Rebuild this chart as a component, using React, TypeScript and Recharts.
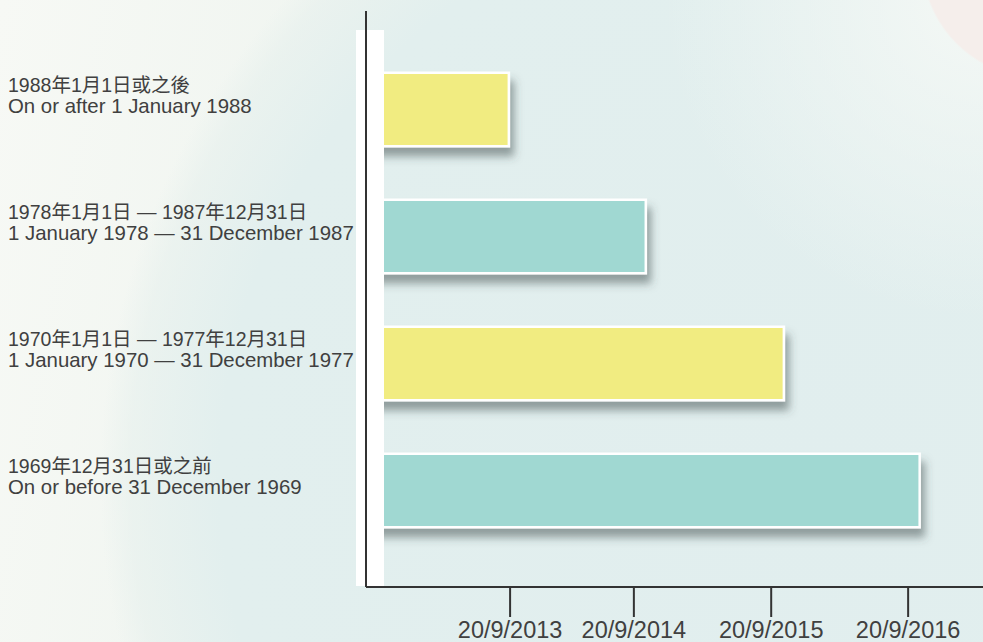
import React from 'react'
import { BarChart, Bar, XAxis, YAxis, Cell } from 'recharts'

// birth date groups (top to bottom)
const groupsZh = ['1988年1月1日或之後', '1978年1月1日 — 1987年12月31日', '1970年1月1日 — 1977年12月31日', '1969年12月31日或之前']
const groupsEn = ['On or after 1 January 1988', '1 January 1978 — 31 December 1987', '1 January 1970 — 31 December 1977', 'On or before 31 December 1969']
// bar end, in days from the axis origin
const barDays = [383, 747, 1114, 1475]
const barColors = ['#f1ec81', '#a0d8d2', '#f1ec81', '#a0d8d2']
// tick positions and labels
const tickDays = [383, 712, 1077, 1441]
const tickLabels = ['20/9/2013', '20/9/2014', '20/9/2015', '20/9/2016']

const data = groupsZh.map((zh, i) => ({ zh, en: groupsEn[i], days: barDays[i] }))

const textFont = "'Liberation Sans', 'Noto Sans CJK TC', sans-serif"

function GroupTick(props: any) {
  const { y, payload } = props
  const row = data.find(d => d.zh === payload.value)
  return (
    <g>
      <text x={8} y={y - 17} fontSize={19.5} fill="#404040" fontFamily={textFont}>{row?.zh}</text>
      <text x={8} y={y + 4} fontSize={20.4} fill="#404040" fontFamily={textFont}>{row?.en}</text>
    </g>
  )
}

function FramedBar(props: any) {
  const { x, y, width, height, fill } = props
  return (
    <g>
      <rect x={x} y={y} width={width} height={height} fill="#fff" filter="url(#barShadow)" />
      <rect x={x} y={y + 2.5} width={width - 2.5} height={height - 5} fill={fill} />
    </g>
  )
}

export default function App() {
  return (
    <div
      style={{
        position: 'absolute',
        left: 0,
        top: 0,
        width: 983,
        height: 642,
        background:
          'radial-gradient(circle at 1040px -40px, #f5eeeb 0 117px, rgba(245,238,235,0) 119px),' +
          'radial-gradient(circle at 983px 0px, rgba(244,248,245,1) 0, rgba(244,248,245,0) 320px),' +
          'radial-gradient(circle at 820px 480px, #e1eeee 0, #e2efee 600px, rgba(230,240,237,0.6) 690px, rgba(230,240,237,0) 720px),' +
          'linear-gradient(100deg, #f7f9f5 0%, #eef4ef 40%, #e7f1ee 70%, #ecf4ef 100%)',
      }}
    >
      <BarChart
        width={983}
        height={642}
        data={data}
        layout="vertical"
        margin={{ top: 11, right: 0, left: 0, bottom: 0 }}
        barSize={76}
      >
        <defs>
          <filter id="barShadow" x="-10%" y="-20%" width="130%" height="170%">
            <feDropShadow dx="4" dy="9" stdDeviation="4" floodColor="#3a4a4a" floodOpacity="0.5" />
          </filter>
        </defs>
        <XAxis
          type="number"
          dataKey="days"
          domain={[0, 1640]}
          ticks={tickDays}
          tickFormatter={(v: number) => tickLabels[tickDays.indexOf(v)] ?? ''}
          height={55}
          axisLine={{ stroke: '#333', strokeWidth: 2 }}
          tickLine={{ stroke: '#333', strokeWidth: 2 }}
          tickSize={30}
          tickMargin={4}
          tick={{ fontSize: 23.5, fill: '#404040', fontFamily: textFont }}
          interval={0}
        />
        <YAxis
          type="category"
          dataKey="zh"
          width={366}
          padding={{ top: 34.5, bottom: 33.5 }}
          axisLine={{ stroke: '#333', strokeWidth: 2 }}
          tickLine={false}
          tick={<GroupTick />}
          interval={0}
        />
        <Bar dataKey="days" shape={<FramedBar />} isAnimationActive={false}>
          {data.map((d, i) => (
            <Cell key={d.zh} fill={barColors[i]} />
          ))}
        </Bar>
      </BarChart>
      {/* white strip over the bar roots, split around the axis line */}
      <div style={{ position: 'absolute', left: 356, top: 30, width: 9, height: 556, background: '#fff', pointerEvents: 'none' }} />
      <div style={{ position: 'absolute', left: 367, top: 30, width: 17, height: 556, background: '#fff', pointerEvents: 'none' }} />
    </div>
  )
}
